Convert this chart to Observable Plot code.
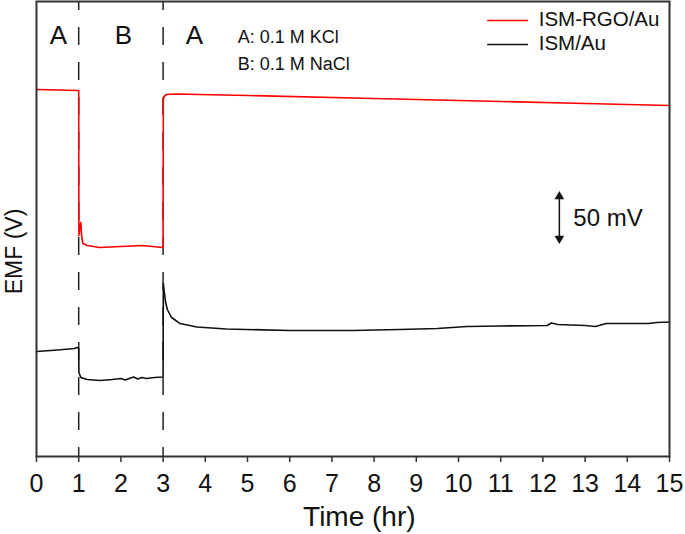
<!DOCTYPE html>
<html>
<head>
<meta charset="utf-8">
<script src="https://cdn.jsdelivr.net/npm/d3@7"></script>
<script src="https://cdn.jsdelivr.net/npm/@observablehq/plot@0.6"></script>
<style>
  html, body { margin: 0; padding: 0; background: #fff; }
  #chart svg { font-family: "Liberation Sans", Arial, sans-serif; }
</style>
</head>
<body>
<div id="chart"></div>
<script>
// Time (hr) and EMF (relative, mV)
const redT = [0, 0.5, 0.99, 1.0, 1.005, 1.03, 1.05, 1.07, 1.1, 1.2, 1.5, 2.0, 2.5, 2.99, 3.0, 3.005, 3.02, 3.08, 3.3, 5, 8, 11, 13, 15];
const redV = [367, 366.5, 366, 366, 221, 230, 234, 220, 213, 211, 209, 210, 211, 209, 209, 356, 360, 362, 362.5, 361, 358, 355, 353, 351];

const blackT = [0, 0.5, 0.9, 0.95, 1.0, 1.005, 1.05, 1.2, 1.5, 1.8, 2.0, 2.1, 2.2, 2.3, 2.4, 2.5, 2.6, 2.8, 2.99, 3.0, 3.005, 3.03, 3.06, 3.1, 3.2, 3.4, 3.8, 4.5, 6, 7.5, 8.6, 9.5, 10.2, 11, 12.1, 12.2, 12.35, 13.0, 13.25, 13.5, 14.5, 14.7, 15];
const blackV = [105, 106.5, 108, 109, 108.5, 84, 79, 77, 76, 77, 78, 76.5, 78, 79.5, 77.5, 79, 78, 79, 79.5, 80, 173, 164, 154, 147, 139, 133, 129.5, 127.5, 126, 126, 127, 128, 130, 130.5, 131, 133.5, 132, 131, 130, 133, 133, 134, 134.5];

const seriesNames = ["ISM-RGO/Au", "ISM/Au"];
const seriesColors = ["#ff0000", "#111111"];
const xTicks = d3.range(0, 16);
const switchTimes = [1, 3];
const phaseLabels = ["A", "B", "A"];
const phaseTimes = [0.52, 2.06, 3.74];
const solutionNotes = ["A: 0.1 M KCl", "B: 0.1 M NaCl"];
const scaleBarLabel = "50 mV";
const scaleBarSize = 50;

const red = redT.map((t, i) => ({t, v: redV[i]}));
const black = blackT.map((t, i) => ({t, v: blackV[i]}));
const phases = phaseLabels.map((l, i) => ({l, t: phaseTimes[i]}));
const notes = solutionNotes.map((l, i) => ({l, i}));
const legend = seriesNames.map((name, i) => ({name, color: seriesColors[i], i}));

const chart = Plot.plot({
  width: 685,
  height: 534,
  marginLeft: 36,
  marginRight: 16,
  marginTop: 1,
  marginBottom: 78,
  x: {domain: [0, 15]},
  y: {domain: [0, 455], axis: null},
  marks: [
    Plot.ruleX(switchTimes, {stroke: "#222", strokeWidth: 1.5, strokeDasharray: "18,17", strokeDashoffset: 9}),
    Plot.line(red, {x: "t", y: "v", stroke: seriesColors[0], strokeWidth: 1.6}),
    Plot.line(black, {x: "t", y: "v", stroke: seriesColors[1], strokeWidth: 1.6}),
    Plot.frame({stroke: "#333", strokeWidth: 2}),
    Plot.axisX({ticks: xTicks, tickSize: 6, tickPadding: 12, fontSize: 25, label: null, stroke: "#333", strokeWidth: 1.5, fill: "#111", tickFormat: d => String(d)}),
    Plot.text(["Time (hr)"], {x: () => 7.65, y: () => -61, fontSize: 28, fill: "#111", clip: false}),
    Plot.text(["EMF (V)"], {x: () => -0.52, y: () => 205, rotate: -90, fontSize: 23, fill: "#111"}),
    Plot.text(phases, {x: "t", y: () => 420.5, text: "l", fontSize: 26, fill: "#111"}),
    Plot.text(notes, {x: () => 4.77, y: d => 419 - 27 * d.i, text: "l", textAnchor: "start", fontSize: 18, fill: "#111"}),
    Plot.ruleY(legend, {x1: () => 10.69, x2: () => 11.66, y: d => 436 - 24 * d.i, stroke: "color", strokeWidth: 1.6}),
    Plot.text(legend, {x: () => 11.9, y: d => 437.5 - 24 * d.i, text: "name", textAnchor: "start", fontSize: 20.5, fill: "#111"}),
    Plot.link([{v1: 214, v2: 214 + scaleBarSize}], {x1: () => 12.39, x2: () => 12.39, y1: d => d.v1 + 4, y2: d => d.v2 - 4, stroke: "#111", strokeWidth: 1.5}),
    Plot.dot([{v: 214 + scaleBarSize - 4}], {x: () => 12.39, y: "v", symbol: "triangle", r: 3.6, fill: "#111", stroke: null}),
    Plot.dot([{v: 214 + 4}], {x: () => 12.39, y: "v", symbol: "triangle", rotate: 180, r: 3.6, fill: "#111", stroke: null}),
    Plot.text([scaleBarLabel], {x: () => 12.72, y: () => 238, textAnchor: "start", fontSize: 24, fill: "#111"})
  ]
});
document.getElementById("chart").appendChild(chart);
</script>
</body>
</html>
